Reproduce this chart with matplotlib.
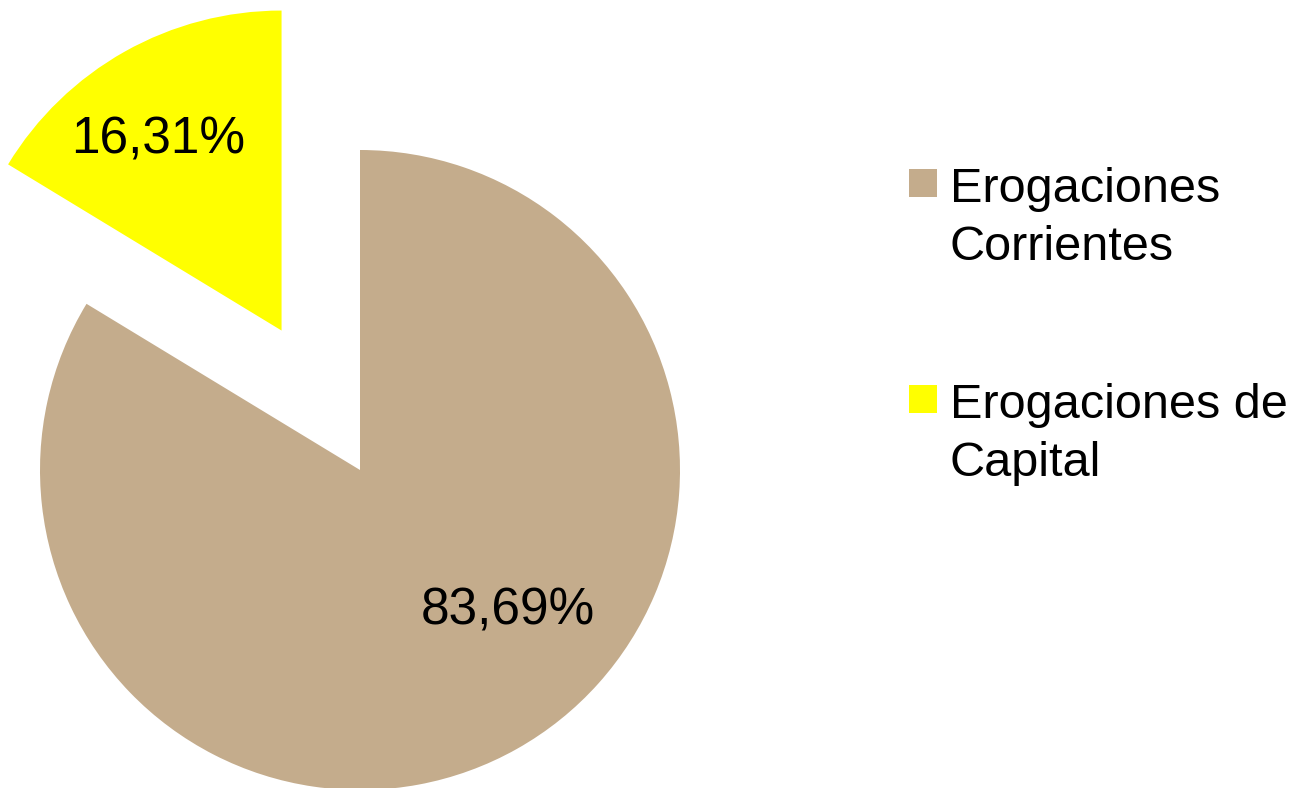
import matplotlib.pyplot as plt
from matplotlib.patches import Rectangle

# Data
labels = ["Erogaciones\nCorrientes", "Erogaciones de\nCapital"]
shares = [83.69, 16.31]
pct_text = ["83,69%", "16,31%"]
colors = ["#C4AC8C", "#FFFF00"]

plt.rcParams["font.family"] = ["Liberation Sans", "DejaVu Sans"]

W, H = 1301, 788
fig = plt.figure(figsize=(W / 100, H / 100), dpi=100)
# axes covers the left part; 1 data unit = 320 px
ax = fig.add_axes([0, 0, 720 / W, 1])

wedges, _ = ax.pie(
    shares,
    colors=colors,
    startangle=90,
    counterclock=False,
    explode=[0, 0.5],
    radius=1,
    wedgeprops={"linewidth": 0},
)
ax.set_xlim(-1.125, 1.125)
ax.set_ylim(-0.99375, 1.46875)
ax.axis("off")

# percentage labels
ax.text(0.4625, -0.44, pct_text[0], fontsize=37, ha="center", va="center")
ax.text(-0.63, 1.03, pct_text[1], fontsize=37, ha="center", va="center")

# legend (drawn by hand so the box sits on the first line)
for i, (lab, col) in enumerate(zip(labels, colors)):
    top = 169 + i * 216
    fig.add_artist(Rectangle((909 / W, 1 - (top + 28) / H), 28 / W, 28 / H,
                             facecolor=col, edgecolor="none",
                             transform=fig.transFigure))
    # baseline of the last line
    fig.text(950 / W, 1 - (top + 91) / H, lab, fontsize=35,
             ha="left", va="baseline", linespacing=1.36)

fig.savefig("out.png", dpi=100)
